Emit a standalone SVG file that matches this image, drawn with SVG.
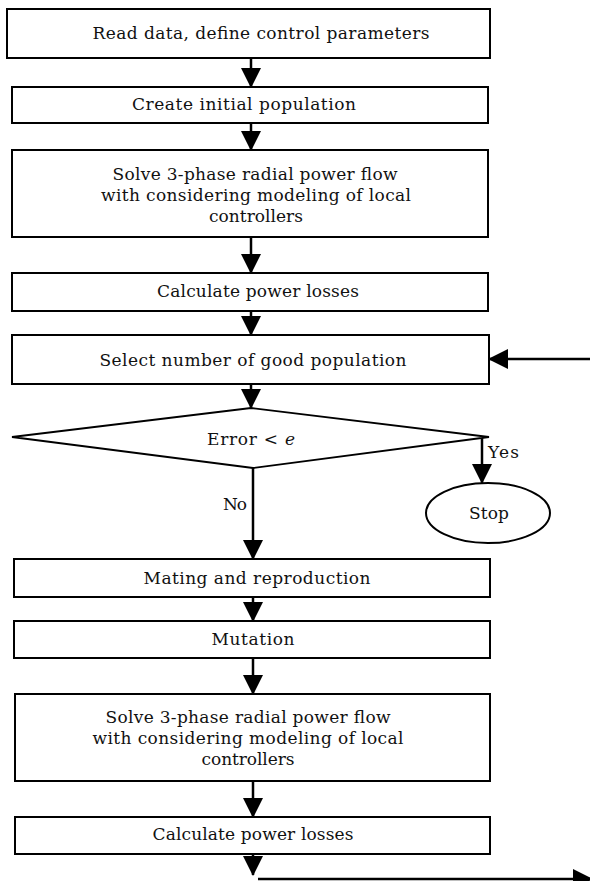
<svg xmlns="http://www.w3.org/2000/svg" width="590" height="881" viewBox="0 0 590 881">
<style>
.box{fill:#fff;stroke:#000;stroke-width:2}
.t{font-family:"DejaVu Serif","Liberation Serif",serif;font-size:17px;fill:#111;text-anchor:middle}
.l{font-family:"DejaVu Serif","Liberation Serif",serif;font-size:17px;fill:#111}
.c{stroke:#000;stroke-width:2.5;fill:none}
</style>
<defs>
<marker id="ah" markerUnits="userSpaceOnUse" markerWidth="20" markerHeight="20" refX="19" refY="10" orient="auto" viewBox="0 0 20 20">
<path d="M0,0 L20,10 L0,20 z" fill="#000"/>
</marker>
</defs>
<rect width="590" height="881" fill="#fff"/>
<g id="connectors">
<line class="c" x1="251" y1="58" x2="251" y2="87" marker-end="url(#ah)"/>
<line class="c" x1="251" y1="123" x2="251" y2="150" marker-end="url(#ah)"/>
<line class="c" x1="251" y1="237" x2="251" y2="273" marker-end="url(#ah)"/>
<line class="c" x1="251" y1="311" x2="251" y2="335" marker-end="url(#ah)"/>
<line class="c" x1="251" y1="384" x2="251" y2="408" marker-end="url(#ah)"/>
<line class="c" x1="482" y1="437" x2="482" y2="483" marker-end="url(#ah)"/>
<line class="c" x1="253" y1="468" x2="253" y2="559" marker-end="url(#ah)"/>
<line class="c" x1="253" y1="597" x2="253" y2="621" marker-end="url(#ah)"/>
<line class="c" x1="253" y1="658" x2="253" y2="694" marker-end="url(#ah)"/>
<line class="c" x1="253" y1="781" x2="253" y2="817" marker-end="url(#ah)"/>
<line class="c" x1="253" y1="854" x2="253" y2="875" marker-end="url(#ah)"/>
<line class="c" x1="258" y1="879" x2="592" y2="879" stroke-width="2" marker-end="url(#ah)"/>
<line class="c" x1="590" y1="359" x2="489" y2="359" stroke-width="2" marker-end="url(#ah)"/>
<text class="l" x="488" y="458" textLength="31" lengthAdjust="spacing">Yes</text>
<text class="l" x="223" y="510" textLength="24">No</text>
</g>
<g id="n1"><rect class="box" x="7" y="9" width="483" height="49"/><text class="t" x="261" y="39" textLength="337" lengthAdjust="spacing">Read data, define control parameters</text></g>
<g id="n2"><rect class="box" x="12" y="87" width="476" height="36"/><text class="t" x="244" y="110" textLength="224" lengthAdjust="spacing">Create initial population</text></g>
<g id="n3"><rect class="box" x="12" y="150" width="476" height="87"/>
<text class="t" x="255" y="180" textLength="285" lengthAdjust="spacing">Solve 3-phase radial power flow</text>
<text class="t" x="256" y="201" textLength="310" lengthAdjust="spacing">with considering modeling of local</text>
<text class="t" x="256" y="222" textLength="94" lengthAdjust="spacing">controllers</text></g>
<g id="n4"><rect class="box" x="12" y="273" width="476" height="38"/><text class="t" x="258" y="297" textLength="202" lengthAdjust="spacing">Calculate power losses</text></g>
<g id="n5"><rect class="box" x="12" y="335" width="477" height="49"/><text class="t" x="253" y="366" textLength="307" lengthAdjust="spacing">Select number of good population</text></g>
<g id="n6"><polygon points="12,437 251,408 489,437 253,468" fill="#fff" stroke="#000" stroke-width="1.8"/><text class="t" x="251" y="445" textLength="88" lengthAdjust="spacing">Error &lt; <tspan font-style="italic">e</tspan></text></g>
<g id="n7"><ellipse cx="488" cy="513" rx="62" ry="30" fill="#fff" stroke="#000" stroke-width="2"/><text class="t" x="489" y="519" textLength="40" lengthAdjust="spacing">Stop</text></g>
<g id="n8"><rect class="box" x="14" y="559" width="476" height="38"/><text class="t" x="257" y="584" textLength="227" lengthAdjust="spacing">Mating and reproduction</text></g>
<g id="n9"><rect class="box" x="14" y="621" width="476" height="37"/><text class="t" x="253" y="645" textLength="83" lengthAdjust="spacing">Mutation</text></g>
<g id="n10"><rect class="box" x="15" y="694" width="475" height="87"/>
<text class="t" x="248" y="723" textLength="285" lengthAdjust="spacing">Solve 3-phase radial power flow</text>
<text class="t" x="248" y="744" textLength="311" lengthAdjust="spacing">with considering modeling of local</text>
<text class="t" x="248" y="765" textLength="93" lengthAdjust="spacing">controllers</text></g>
<g id="n11"><rect class="box" x="15" y="817" width="475" height="37"/><text class="t" x="253" y="840" textLength="201" lengthAdjust="spacing">Calculate power losses</text></g>
</svg>
